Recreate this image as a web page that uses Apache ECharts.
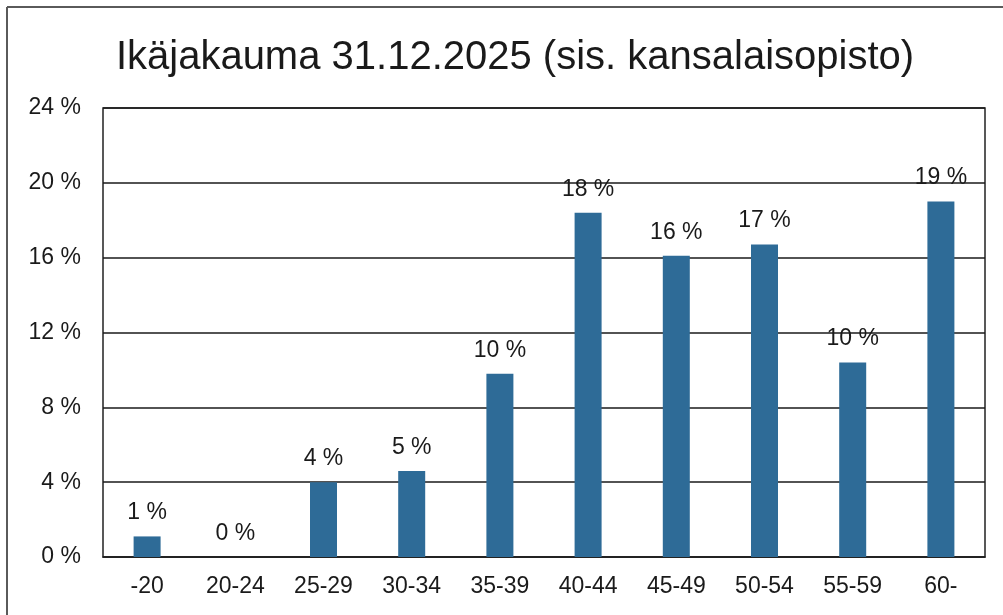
<!DOCTYPE html>
<html>
<head>
<meta charset="utf-8">
<script src="https://cdn.jsdelivr.net/npm/echarts@6/dist/echarts.min.js"></script>
<style>
  html, body { margin: 0; padding: 0; background: #fff; }
  #chart { width: 1003px; height: 615px; }
</style>
</head>
<body>
<div id="chart"></div>
<script>
const titleText = 'Ikäjakauma 31.12.2025 (sis. kansalaisopisto)';
const categories = ['-20', '20-24', '25-29', '30-34', '35-39', '40-44', '45-49', '50-54', '55-59', '60-'];
const values = [1.1, 0, 4.0, 4.6, 9.8, 18.4, 16.1, 16.7, 10.4, 19.0];
const yMin = 0, yMax = 24, yStep = 4;

const chart = echarts.init(document.getElementById('chart'), null, { renderer: 'canvas' });
const fontFam = '"Liberation Sans", Arial, sans-serif';
chart.setOption({
  backgroundColor: '#ffffff',
  animation: false,
  title: {
    text: titleText,
    left: 510,
    top: 33,
    textAlign: 'center',
    textStyle: { fontFamily: fontFam, fontSize: 40, fontWeight: 'normal', color: '#1a1a1a' }
  },
  graphic: [
    { type: 'line', shape: { x1: 7, y1: 7, x2: 1003, y2: 7 }, style: { stroke: '#5a5a5a', lineWidth: 2 } },
    { type: 'line', shape: { x1: 7, y1: 7, x2: 7, y2: 615 }, style: { stroke: '#5a5a5a', lineWidth: 2 } }
  ],
  grid: {
    left: 103, right: 18, top: 108, bottom: 58,
    show: true, borderColor: '#222', borderWidth: 1.5, containLabel: false
  },
  xAxis: {
    type: 'category',
    data: categories,
    axisLine: { show: true, lineStyle: { color: '#222', width: 1.5 } },
    axisTick: { show: false },
    axisLabel: { fontFamily: fontFam, fontSize: 23, color: '#1a1a1a', margin: 18, interval: 0 }
  },
  yAxis: {
    type: 'value',
    min: yMin, max: yMax, interval: yStep,
    axisLine: { show: false },
    axisTick: { show: false },
    axisLabel: { fontFamily: fontFam, fontSize: 23, color: '#1a1a1a', margin: 22, formatter: v => v + ' %' },
    splitLine: { show: true, lineStyle: { color: '#1a1a1a', width: 1.5 } }
  },
  series: [{
    type: 'bar',
    data: values,
    barWidth: 27,
    itemStyle: { color: '#2e6b97' },
    label: {
      show: true,
      position: 'top',
      distance: 12,
      fontFamily: fontFam,
      fontSize: 23,
      color: '#1a1a1a',
      formatter: p => Math.round(p.value) + ' %'
    }
  }]
});
</script>
</body>
</html>
